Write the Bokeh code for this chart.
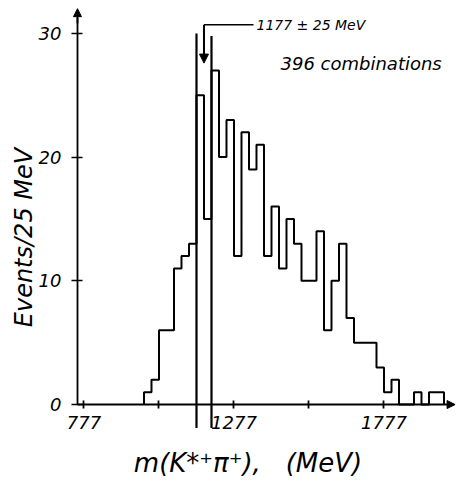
import numpy as np
from bokeh.plotting import figure
from bokeh.models import Range1d, FixedTicker, Arrow, NormalHead, Label
from bokeh.embed import file_html
from bokeh.resources import INLINE

# ---- data ----
bin_low = 977          # MeV, lower edge of first non-empty bin
bin_width = 25         # MeV
counts = [1, 2, 6, 6, 11, 12, 13,
          25, 15, 27, 20, 23,
          12, 22, 19, 21,
          12, 16, 11, 15, 13,
          10, 10, 14, 6, 10, 13, 7,
          5, 5, 5, 3, 1, 2,
          0, 0, 1, 0, 1, 1]
x_ticks = [777, 1027, 1277, 1527, 1777]
x_tick_labels = {777: "777", 1027: "", 1277: "1277", 1527: "", 1777: "1777"}
y_ticks = [0, 10, 20, 30]
peak_mass = 1177
peak_err = 25
n_combinations = 396

FONT = "DejaVu Sans"
X_START, X_END = 498.7, 2018.7
Y_START, Y_END = -6.06, 32.66
X_AXIS0 = 755.3      # where the vertical axis sits
Y_TOP = 31.3

p = figure(width=456, height=479,
           x_range=Range1d(X_START, X_END), y_range=Range1d(Y_START, Y_END),
           output_backend="svg", toolbar_location=None,
           min_border_left=0, min_border_right=0, min_border_top=0,
           min_border_bottom=0)
p.outline_line_color = None
p.grid.visible = False
p.background_fill_color = "white"

# histogram outline
edges = bin_low + bin_width * np.arange(len(counts) + 1)
xs = [edges[0]] + list(edges)
ys = [0] + list(counts) + [0]
p.step(xs, ys, mode="after", line_color="black", line_width=2)

# band markers at peak +- err
p.segment(x0=[peak_mass - peak_err, peak_mass + peak_err], y0=[30.0, 29.8],
          x1=[peak_mass - peak_err, peak_mass + peak_err], y1=[-1.9, -1.9],
          line_color="black", line_width=2.2)

# arrow pointing to peak
p.segment(x0=[peak_mass], y0=[30.7], x1=[1342], y1=[30.7],
          line_color="black", line_width=1.5)
p.add_layout(Arrow(end=NormalHead(size=9, fill_color="black", line_color="black"),
                   x_start=peak_mass, y_start=30.7, x_end=peak_mass, y_end=27.6,
                   line_color="black", line_width=2))

# x axis
xa = p.xaxis[0]
xa.fixed_location = 0
xa.ticker = FixedTicker(ticks=x_ticks)
xa.major_label_overrides = x_tick_labels
xa.minor_tick_line_color = None
xa.major_tick_in = 4
xa.major_tick_out = 4
xa.axis_line_width = 1.8
xa.major_tick_line_width = 1.8
xa.major_label_standoff = 7
xa.major_label_text_font = FONT
xa.major_label_text_font_style = "italic"
xa.major_label_text_font_size = "18px"
xa.major_label_text_color = "black"
xa.bounds = (X_AXIS0, 2010)

# y axis
ya = p.yaxis[0]
ya.fixed_location = X_AXIS0
ya.ticker = FixedTicker(ticks=y_ticks)
ya.minor_tick_line_color = None
ya.major_tick_in = 5
ya.major_tick_out = 6
ya.axis_line_width = 1.8
ya.major_tick_line_width = 1.5
ya.major_label_standoff = 10
ya.major_label_text_font = FONT
ya.major_label_text_font_style = "italic"
ya.major_label_text_font_size = "18px"
ya.major_label_text_color = "black"
ya.bounds = (0, Y_TOP)

# axis arrowheads
p.add_layout(Arrow(end=NormalHead(size=8, fill_color="black", line_color="black"),
                   x_start=X_AXIS0, y_start=30.8, x_end=X_AXIS0, y_end=32.0,
                   line_color="black", line_width=1.8))
p.add_layout(Arrow(end=NormalHead(size=8, fill_color="black", line_color="black"),
                   x_start=1995, y_start=0, x_end=2014, y_end=0,
                   line_color="black", line_width=1.8))

# texts
p.add_layout(Label(x=1352, y=30.7, text=f"{peak_mass} ± {peak_err} MeV",
                   text_font=FONT, text_font_style="italic",
                   text_font_size="14px", text_baseline="middle",
                   text_align="left", text_color="black"))
p.add_layout(Label(x=1432, y=27.6, text=f"{n_combinations} combinations",
                   text_font=FONT, text_font_style="italic",
                   text_font_size="18px", text_baseline="middle",
                   text_align="left", text_color="black"))
p.add_layout(Label(x=578.6, y=13.5, text="Events/25 MeV", angle=np.pi / 2,
                   text_font=FONT, text_font_style="italic",
                   text_font_size="24px", text_baseline="middle",
                   text_align="center", text_color="black"))
p.add_layout(Label(x=1323.7, y=-4.69, text="m(K*⁺π⁺),\u00a0\u00a0 (MeV)",
                   text_font=FONT, text_font_style="italic",
                   text_font_size="26px", text_baseline="middle",
                   text_align="center", text_color="black"))

open("out.html", "w").write(file_html(p, INLINE))
